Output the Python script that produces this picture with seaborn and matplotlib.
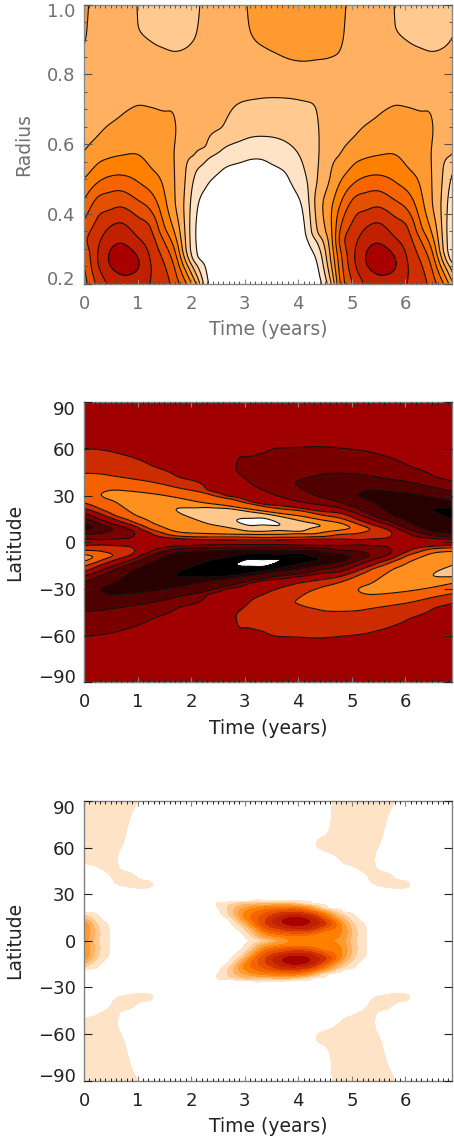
import numpy as np
import matplotlib
matplotlib.use("Agg")
import matplotlib.pyplot as plt
from matplotlib.transforms import ScaledTranslation
import seaborn as sns

CYCLE = 4.8
TMAX = 6.87

# ---- top panel: time columns, each with (radius, value) readings
radius_times = [0, .25, .45, .7, 1, 1.25, 1.5, 1.7, 1.9, 2.1, 2.3, 2.6, 3, 3.4, 3.8, 4.1, 4.35, 4.6]
radius_cols = [
    ([1, .918, .87, .727, .572, .497, .435, .373, .325, .282, .2], [4.12, 4.08, 4, 3.5, 4, 5, 6, 7, 7.6, 7, 6.4]),
    ([1, .727, .622, .545, .49, .45, .392, .273, .2], [3.8, 3.5, 4, 5, 6, 7, 8, 9, 8.2]),
    ([1, .727, .655, .559, .507, .461, .409, .359, .273, .2], [3.5, 3.55, 4, 5, 6, 7, 8, 9, 10, 9.1]),
    ([1, .822, .684, .568, .512, .467, .421, .376, .318, .268, .225, .2], [3.2, 3.4, 4, 5, 6, 7, 8, 9, 10, 10.7, 10, 9.7]),
    ([1, .94, .87, .712, .572, .493, .44, .392, .333, .258, .2], [3, 3.02, 3.4, 4, 5, 6, 7, 8, 9, 10.15, 9.4]),
    ([1, .93, .894, .775, .706, .531, .464, .411, .363, .239, .2], [2.6, 2.7, 3, 3.5, 4, 5, 6, 7, 8, 9, 8.95]),
    ([1, .875, .775, .693, .464, .363, .32, .258, .2], [2.4, 3, 3.5, 4, 5, 6, 7, 8, 8.5]),
    ([1, .865, .775, .687, .641, .564, .44, .344, .298, .244, .2], [2.35, 3, 3.5, 4, 4.1, 3.95, 4, 5, 6, 7, 7.5]),
    ([1, .875, .775, .516, .402, .301, .263, .237, .206, .2], [2.5, 3, 3.4, 3, 2.75, 3, 4, 5, 6, 6.2]),
    ([1, .918, .775, .569, .526, .416, .344, .277, .254, .225, .2], [2.9, 3, 3.3, 3, 2, 1, .8, 1, 2, 3, 4]),
    ([1, .775, .593, .557, .483, .344, .206, .2], [3.2, 3.2, 3, 2, 1, .5, 1, 1.1]),
    ([1, .775, .65, .588, .531, .344, .2], [3.5, 3.25, 3, 2, 1, .2, .2]),
    ([1, .93, .775, .724, .614, .553, .2], [3.95, 3.92, 3.4, 3, 2, 1, 0]),
    ([1, .875, .733, .622, .553, .2], [4.4, 4, 3, 2, 1, 0]),
    ([1, .845, .732, .604, .512, .2], [4.5, 4, 3, 2, 1, 0]),
    ([1, .837, .724, .536, .406, .2], [4.5, 4, 3, 2, 1, .2]),
    ([1, .842, .7, .583, .497, .435, .349, .32, .268, .2], [4.6, 4, 3, 2.85, 3, 3.4, 3, 2, 1, .4]),
    ([1, .849, .698, .512, .402, .277, .215, .2], [4.5, 4, 3.6, 4, 4.8, 4, 3, 2.6]),
]

# ---- middle panel: northern hemisphere columns (lat, value)
bfield_times = [0, .32, .55, .95, 1.23, 1.71, 2.29, 2.65, 2.84, 3.1, 3.41, 4.03, 4.43]
bfield_cols = [
    ([90, 60.4, 44.4, 33.6, 25.5, 21.9, 18.6, 15.4, 12.2, 10.1, 7.9, 5.1, 2.1, 0],
     [.1, .5, 1.5, 2.3, 1.5, .5, -.5, -1.5, -2.5, -3, -2.5, -1.5, -.5, 0]),
    ([90, 59.4, 43.9, 30.4, 21.2, 18.2, 14.4, 11.6, 9, 5.8, 1.7, 0],
     [.1, .5, 1.5, 2.5, 1.5, .5, -.5, -1.5, -2, -1.5, -.5, 0]),
    ([90, 57.9, 42.6, 33.6, 30.4, 26.6, 17.6, 15.2, 11.6, 8.6, 2.1, 0],
     [.1, .5, 1.5, 2.5, 2.7, 2.5, 1.5, .5, -.5, -1.48, -.5, 0]),
    ([90, 54, 40.5, 32.6, 26.1, 17.6, 12.6, 10.5, 5.8, 2.6, 0],
     [.1, .5, 1.5, 2.5, 2.9, 2.5, 1.5, .5, -.5, -.4, 0]),
    ([90, 49.7, 39, 31.5, 22.9, 13.3, 8.6, 6.2, 2.6, 0],
     [.1, .5, 1.5, 2.5, 2.9, 2.5, 1.5, .5, .1, 0]),
    ([90, 42.6, 35.4, 28.9, 21.2, 14.4, 6.9, 4.1, 2.6, 0],
     [.05, .5, 1.5, 2.5, 3.5, 3.1, 2.5, 1.5, .5, 0]),
    ([90, 33.6, 31.5, 25.1, 22.5, 17.6, 12.2, 5.6, 3.4, 1.7, 0],
     [.02, .5, 1.5, 2.5, 3.5, 3.8, 3.5, 2.5, 1.5, .5, 0]),
    ([90, 47, 29.5, 28.5, 23.5, 22, 15, 9.8, 5.3, 3.4, 1.6, 0],
     [-.15, -.3, .5, 1.5, 2.5, 3.5, 4.2, 3.5, 2.5, 1.5, .5, 0]),
    ([90, 47.1, 37.9, 28.9, 27.2, 22.5, 21.2, 13.9, 8.6, 5.1, 3.4, 1.5, 0],
     [-.2, -.5, -.1, .5, 1.5, 2.5, 3.5, 4.5, 3.5, 2.5, 1.5, .5, 0]),
    ([90, 55, 46, 38, 31, 26, 25, 21.2, 19.7, 15.4, 13, 10.7, 7.1, 5.1, 3.2, 1.5, 0],
     [-.25, -.5, -.7, -.5, 0, .5, 1.5, 2.5, 3.5, 4.5, 4.7, 4.5, 3.5, 2.5, 1.5, .5, 0]),
    ([90, 58.3, 40, 32.6, 24, 22.9, 19.7, 18.2, 15.2, 12.2, 11.1, 7.1, 5.1, 3, 1.5, 0],
     [-.3, -.5, -.9, -.5, .5, 1.5, 2.5, 3.5, 4.5, 4.8, 4.5, 3.5, 2.5, 1.5, .5, 0]),
    ([90, 61, 40.1, 37.9, 35.4, 26.1, 21.9, 20.4, 16.9, 13.9, 10.1, 6.9, 5.6, 3.2, 1.9, 0],
     [-.2, -.5, -1.5, -1.6, -1.5, -.5, .5, 1.5, 2.5, 3.5, 3.9, 3.5, 2.5, 1.5, .5, 0]),
    ([90, 61.5, 43.7, 33.6, 28.9, 24, 19.9, 17.6, 14.4, 10.7, 6.2, 3.6, 2.1, 0],
     [-.2, -.5, -1.5, -2, -1.5, -.5, .5, 1.5, 2.5, 3.5, 2.5, 1.5, .5, 0]),
]

# ---- bottom panel: symmetric about the equator, columns (lat, value)
flux_times = [0, .26, .49, .6, .73, 1, 1.3, 1.6, 2.5, 2.72, 2.97, 3.1, 3.38, 3.69, 3.94, 4.22, 4.53]
flux_cols = [
    ([90, 50.6, 36, 18.9, 17.2, 15, 13.1, 10.3, 7.1, 2.8, 0],
     [1.5, 1, .4, 1, 2, 3, 4, 5, 5.3, 5, 4.6]),
    ([90, 47.4, 36, 16.1, 9.2, 4.9, 0], [1.5, 1, .4, 1, 2, 2.2, 2]),
    ([90, 39.7, 27.5, 17, 7.1, 0], [1.5, 1, .5, .5, .95, 1]),
    ([90, 50, 37.1, 27.5, 0], [1.5, 1.08, 1, .4, .4]),
    ([90, 62.9, 54.3, 45, 40.3, 35.4, 27.5, 0], [1.4, 1, .75, 1, 1.25, 1, .4, .3]),
    ([90, 68, 39.7, 36.7, 33.9, 27.5, 0], [1, .6, 1, 1.2, 1, .4, .3]),
    ([90, 48.9, 35.6, 27.5, 0], [.6, .5, 1, .4, .3]),
    ([90, 0], [.5, .3]),
    ([90, 22.1, 21, 13.9, 0], [.4, 1, .9, .5, .3]),
    ([90, 26.4, 24.9, 23.2, 19.9, 16.7, 13.9, 7, 0], [.4, .6, 1, 2, 2.4, 2, 1, .6, .4]),
    ([90, 26.4, 25.3, 24.7, 23.2, 21, 17.8, 15.7, 13.1, 11.4, 9.2, 4.9, 0],
     [.4, .6, 1, 2, 3, 4, 5, 5, 4, 3, 2, 1, .6]),
    ([90, 25.3, 24.7, 23.6, 22.1, 20.4, 15.7, 10.9, 9.2, 7.1, 4.5, 0],
     [.4, 1, 2, 3, 4, 5, 6, 5, 4, 3, 2, 1]),
    ([90, 25.3, 24.7, 23.8, 23, 21.9, 20, 17.8, 12.4, 8.2, 6, 4.3, 2.4, 1.3, 0],
     [.4, 1, 2, 3, 4, 5, 6, 7, 8, 7, 6, 5, 4, 3, 2]),
    ([90, 25.3, 24.7, 24, 23.2, 22.1, 21, 19.5, 18.2, 16.1, 12.4, 9.2, 7.5, 5.6, 3.9, 2.4, 0],
     [.4, 1, 2, 3, 4, 5, 6, 7, 8, 9, 10, 9, 8, 7, 6, 5, 4.5]),
    ([90, 25.1, 24.5, 23.8, 23, 22.1, 21, 20, 18.5, 16.9, 15.2, 12.4, 9.7, 7.9, 6.4, 4.9, 3.4, 1.7, 0],
     [.4, 1, 2, 3, 4, 5, 6, 7, 8, 9, 10, 10.8, 10, 9, 8, 7, 6, 5.3, 5.1]),
    ([90, 23.8, 23.2, 22.5, 21.7, 20.6, 19.5, 18.5, 17.2, 15.7, 12.4, 8.2, 6.9, 5.4, 3.9, 2.4, 0],
     [.8, 1, 2, 3, 4, 5, 6, 7, 8, 9, 10, 9, 8, 7, 6, 5.3, 5.2]),
    ([90, 68, 62.9, 57.5, 46.8, 21, 20.4, 19.5, 18.5, 17.4, 15.7, 13.9, 11.4, 8.8, 6.7, 3.9, 0],
     [.7, 1, 1.2, 1, .6, 1, 2, 3, 4, 5, 6, 7, 8, 7, 6, 5, 5.1]),
]

# ---- shared band colours and contour levels
orange_bands = ['#FFFFFF', '#FFE3C6', '#FFC98F', '#FFB060', '#FF9A30', '#FF7F00',
                '#F56400', '#E55000', '#D03000', '#C02000', '#A80000']
orange_levels = [-50, 1, 2, 3, 4, 5, 6, 7, 8, 9, 10, 50]
bfield_bands = ['#FFFFFF', '#000000', '#280000', '#500000', '#7A0000', '#A00000',
                '#CC2C00', '#F56000', '#FF9020', '#FFC88A', '#FFFFFF']
bfield_levels = [-50, -4.5, -3.5, -2.5, -1.5, -.5, .5, 1.5, 2.5, 3.5, 4.5, 50]
x_ticks = [0, 1, 2, 3, 4, 5, 6]
radius_ticks = [.2, .4, .6, .8, 1.0]
lat_ticks = [-90, -60, -30, 0, 30, 60, 90]

sns.set_theme(style="ticks")
plt.rcParams['font.family'] = ['DejaVu Sans']
plt.rcParams['contour.negative_linestyle'] = 'solid'


def blur(z, sigma, axis):
    n = int(4 * sigma) + 1
    k = np.exp(-.5 * (np.arange(-n, n + 1) / sigma) ** 2)
    k /= k.sum()
    pad = [(0, 0), (0, 0)]
    pad[axis] = (n, n)
    zz = np.pad(z, pad, mode='edge')
    return np.apply_along_axis(lambda a: np.convolve(a, k, mode='valid'), axis, zz)


def pchip(xq, xp, fp):
    """Monotone cubic through the readings of one column."""
    xp = np.asarray(xp, float)
    fp = np.asarray(fp, float)
    h = np.diff(xp)
    d = np.diff(fp) / h
    m = np.zeros_like(fp)
    for i in range(1, len(fp) - 1):
        if d[i - 1] * d[i] > 0:
            m[i] = 2 * d[i - 1] * d[i] / (d[i - 1] + d[i])
    m[0], m[-1] = d[0], d[-1]
    k = np.clip(np.searchsorted(xp, xq) - 1, 0, len(h) - 1)
    s = (xq - xp[k]) / h[k]
    return ((2 * s**3 - 3 * s**2 + 1) * fp[k] + (s**3 - 2 * s**2 + s) * h[k] * m[k]
            + (-2 * s**3 + 3 * s**2) * fp[k + 1] + (s**3 - s**2) * h[k] * m[k + 1])


def build_grid(times, cols, signs, tfine, yfine, shear=0., taper=10., st=.05, sy=.007):
    """Smooth surface through the column readings; shear follows sloping sheets."""
    lo, hi = yfine[0], yfine[-1]
    dense_y = np.linspace(lo, hi, 1500)
    dense = [s * pchip(dense_y, c[0][::-1], c[1][::-1]) for c, s in zip(cols, signs)]
    tc = np.asarray(times, float)
    rate = shear * np.clip(yfine / taper, 0, 1) if shear else np.zeros_like(yfine)

    def col_at(c, t):
        q = yfine + rate * (t - tc[c])
        q = np.where(q < lo, 2 * lo - q, q)
        return np.interp(q, dense_y, dense[c])

    out = np.zeros((len(yfine), len(tfine)))
    n = len(tc)
    for i, t in enumerate(tfine):
        k = int(np.clip(np.searchsorted(tc, t) - 1, 0, n - 2))
        a, b, c, d = max(k - 1, 0), k, k + 1, min(k + 2, n - 1)
        vb, vc = col_at(b, t), col_at(c, t)
        m1 = (vc - col_at(a, t)) / (tc[c] - tc[a])
        m2 = (col_at(d, t) - vb) / (tc[d] - tc[b])
        h = tc[c] - tc[b]
        s = (t - tc[b]) / h
        out[:, i] = ((2 * s**3 - 3 * s**2 + 1) * vb + (s**3 - 2 * s**2 + s) * h * m1
                     + (-2 * s**3 + 3 * s**2) * vc + (s**3 - s**2) * h * m2)
    dt = tfine[1] - tfine[0]
    dy = yfine[1] - yfine[0]
    return blur(blur(out, st / dt, 1), sy * (hi - lo) / dy, 0)


def two_cycles(times, cols, flip):
    tt = [times[-1] - CYCLE] + list(times) + [CYCLE + t for t in times]
    cc = [cols[-1]] + list(cols) * 2
    ss = [flip] + [1] * len(times) + [flip] * len(times)
    keep = [i for i, t in enumerate(tt) if t < TMAX + 1.2]
    return [tt[i] for i in keep], [cc[i] for i in keep], [ss[i] for i in keep]


W, H = 454, 1142
fig = plt.figure(figsize=(W / 100, H / 100), dpi=100)


def make_axes(top, bottom):
    return fig.add_axes([84 / W, 1 - bottom / H, 368 / W, (bottom - top) / H])


def style(ax, ylabel, ylim, yticks, color, tickcolor, framecolor, ylabels, label_x):
    ax.set_axisbelow(False)
    ax.set_xlim(0, TMAX)
    ax.set_ylim(*ylim)
    ax.set_xticks(x_ticks)
    ax.set_xticks(np.arange(1, 69) / 10, minor=True)
    ax.set_yticks(yticks)
    ax.set_yticklabels(ylabels)
    ax.tick_params(axis='x', which='major', direction='in', length=3.6, width=.8, top=True, bottom=True,
                   color=framecolor, labelcolor=color, labelsize=13, pad=8)
    ax.tick_params(axis='x', which='minor', direction='in', length=2.0, width=.7, top=True, bottom=True,
                   color=tickcolor)
    ax.tick_params(axis='y', which='major', direction='in', length=5.8, width=.8, left=True, right=True,
                   color=tickcolor, labelcolor=color, labelsize=13, pad=6)
    ax.tick_params(axis='y', which='minor', direction='in', length=2.2, width=.7, left=True, right=True,
                   color=tickcolor)
    ax.set_xlabel('Time (years)', color=color, fontsize=13.5, va='center')
    ax.xaxis.set_label_coords(.5, -46 / 280)
    ax.set_ylabel(ylabel, color=color, fontsize=13.5, va='center')
    ax.yaxis.set_label_coords(label_x, .5)
    for s in ax.spines.values():
        s.set_color(framecolor)
        s.set_linewidth(1.0)
    ax.grid(False)
    labels = ax.get_yticklabels()
    for lbl, dy in ((labels[0], 6 / 100), (labels[-1], -5.5 / 100)):
        lbl.set_transform(lbl.get_transform() + ScaledTranslation(0, dy, fig.dpi_scale_trans))


tfine = np.linspace(0, TMAX + .1, 520)

# top
ax1 = make_axes(4.7, 283.7)
rfine = np.linspace(.2, 1, 320)
tt, cc, ss = two_cycles(radius_times, radius_cols, 1)
Z1 = build_grid(tt, cc, ss, tfine, rfine, st=.06, sy=.008)
ax1.contourf(tfine, rfine, Z1, levels=orange_levels, colors=sns.color_palette(orange_bands))
ax1.contour(tfine, rfine, Z1, levels=orange_levels[1:-1], colors='#111111', linewidths=.8)
style(ax1, 'Radius', (.2, 1), radius_ticks, '#707070', '#555555', '#8a8a8a',
      ['%.1f' % v for v in radius_ticks], -.163)
ax1.set_yticks(np.arange(.2, 1.0001, .05), minor=True)

# middle
ax2 = make_axes(402.3, 682.3)
lat_n = np.linspace(0, 90, 300)
tt, cc, ss = two_cycles(bfield_times, bfield_cols, -1)
Zn = build_grid(tt, cc, ss, tfine, lat_n, shear=6., taper=10., st=.05, sy=.004)
lat_all = np.concatenate([-lat_n[:0:-1], lat_n])
Z2 = np.vstack([-Zn[:0:-1], Zn])
ax2.contourf(tfine, lat_all, Z2, levels=bfield_levels, colors=sns.color_palette(bfield_bands))
ax2.contour(tfine, lat_all, Z2, levels=bfield_levels[1:-1], colors='#111111', linewidths=.8)
style(ax2, 'Latitude', (-90, 90), lat_ticks, '#222222', '#222222', '#808080',
      ['\u2212%d' % -v if v < 0 else str(v) for v in lat_ticks], -.1875)

# bottom
ax3 = make_axes(801, 1080.7)
tt, cc, ss = two_cycles(flux_times, flux_cols, 1)
Zn3 = build_grid(tt, cc, ss, tfine, lat_n, st=.07, sy=.004)
Z3 = np.vstack([Zn3[:0:-1], Zn3])
ax3.contourf(tfine, lat_all, Z3, levels=orange_levels, colors=sns.color_palette(orange_bands))
style(ax3, 'Latitude', (-90, 90), lat_ticks, '#222222', '#222222', '#808080',
      ['\u2212%d' % -v if v < 0 else str(v) for v in lat_ticks], -.1875)

fig.savefig('out.png', dpi=100)
